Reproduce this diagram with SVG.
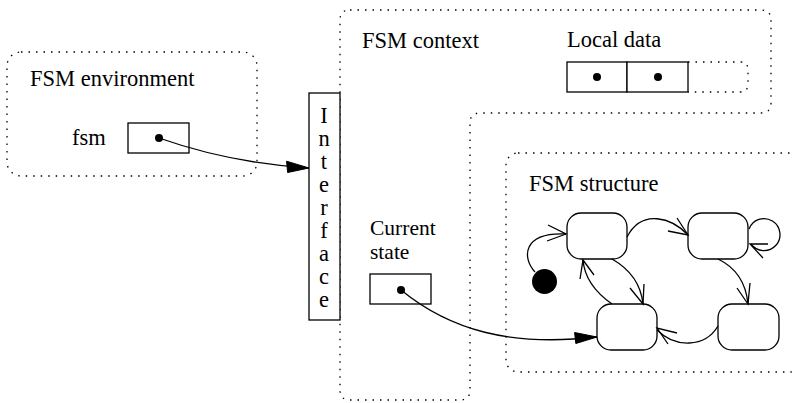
<svg xmlns="http://www.w3.org/2000/svg" width="794" height="403" viewBox="0 0 794 403">
<style>
  text { font-family: "Liberation Serif", "Times New Roman", serif; font-size: 22.5px; fill: #000; }
  .dot { fill: none; stroke: #000; stroke-width: 1.3; stroke-dasharray: 1.5 6; }
  .box { fill: #fff; stroke: #000; stroke-width: 1.3; }
  .state { fill: #fff; stroke: #000; stroke-width: 1.3; }
  .edge { fill: none; stroke: #000; stroke-width: 1.3; }
  .chev { fill: none; stroke: #000; stroke-width: 1.3; }
  .head { fill: #000; stroke: #000; stroke-width: 1; }
  .pt { fill: #000; }
</style>
<rect width="794" height="403" fill="#fff"/>

<g id="fsm-environment">
  <rect class="dot" x="7" y="52" width="250" height="124" rx="14"/>
  <text x="30" y="86">FSM environment</text>
  <text x="72" y="145">fsm</text>
  <rect class="box" x="128" y="123" width="61" height="30"/>
  <circle class="pt" cx="159" cy="138" r="4"/>
</g>

<g id="fsm-context">
  <path class="dot" d="M350,10 L761,10 Q771,10 771,20 L771,103 Q771,113 761,113 L480,113 Q470,113 470,123 L470,390 Q470,400 460,400 L350,400 Q340,400 340,390 L340,20 Q340,10 350,10 Z"/>
  <text x="362" y="48">FSM context</text>
</g>

<g id="local-data">
  <text x="567" y="47">Local data</text>
  <path class="dot" d="M688,62 L740,62 Q748,62 748,70 L748,84 Q748,92 740,92 L688,92"/>
  <rect class="box" x="567" y="62" width="60" height="30"/>
  <rect class="box" x="627" y="62" width="61" height="30"/>
  <circle class="pt" cx="597" cy="77" r="4"/>
  <circle class="pt" cx="658" cy="77" r="4"/>
</g>

<g id="interface">
  <rect class="box" x="309" y="93" width="31" height="227"/>
  <g text-anchor="middle" style="font-size:22px">
    <text x="324" y="123">I</text>
    <text x="324" y="146">n</text>
    <text x="324" y="169">t</text>
    <text x="324" y="192">e</text>
    <text x="324" y="215">r</text>
    <text x="324" y="238">f</text>
    <text x="324" y="261">a</text>
    <text x="324" y="284">c</text>
    <text x="324" y="307">e</text>
  </g>
</g>

<g id="current-state">
  <text x="370" y="235" style="font-size:21.5px">Current</text>
  <text x="370" y="259" style="font-size:21.5px">state</text>
  <rect class="box" x="370" y="274" width="61" height="30"/>
  <circle class="pt" cx="401" cy="290" r="4"/>
</g>

<g id="fsm-structure">
  <rect class="dot" x="506" y="153" width="296" height="219" rx="12"/>
  <text x="529" y="191">FSM structure</text>
  <g id="initial"><circle class="pt" cx="544.5" cy="281.5" r="12.5"/></g>
  <g id="s1"><rect class="state" x="567" y="213" width="60" height="46" rx="14"/></g>
  <g id="s2"><rect class="state" x="688" y="213" width="60" height="46" rx="14"/></g>
  <g id="s3"><rect class="state" x="597" y="304" width="60" height="46" rx="14"/></g>
  <g id="s4"><rect class="state" x="718" y="304" width="61" height="46" rx="14"/></g>
</g>

<g id="connectors">
  <path class="edge" d="M159,138 Q230,163 309,168"/>
  <polygon class="head" points="309,168 287.6,172.5 286.6,161.2"/>
  <path class="edge" d="M401,290 C450,330 510,347 597,337"/>
  <polygon class="head" points="597,337 575.8,343.5 574.6,332.5"/>

  <path class="edge" d="M535,272 C522,258 522,232 566,234"/>
  <polyline class="chev" points="548,225 566,234 547,241"/>

  <path class="edge" d="M627,237 C642,208 672,218 688,235"/>
  <polyline class="chev" points="677,218 688,235 668,231"/>

  <path class="edge" d="M749,229 A16,16 0 1 1 751,244"/>
  <polyline class="chev" points="768,244 750,244 763,258"/>

  <path class="edge" d="M718,259 Q745,272 748,304"/>
  <polyline class="chev" points="737,288 748,304 750,283"/>

  <path class="edge" d="M718,326 C705,348 675,348 657,330"/>
  <polyline class="chev" points="677,333 657,328 668,344"/>

  <path class="edge" d="M612,259 Q640,275 643,304"/>
  <polyline class="chev" points="630,288 643,304 644,284"/>

  <path class="edge" d="M612,304 Q585,285 583,260"/>
  <polyline class="chev" points="580,279 583,260 594,275"/>
</g>
</svg>
